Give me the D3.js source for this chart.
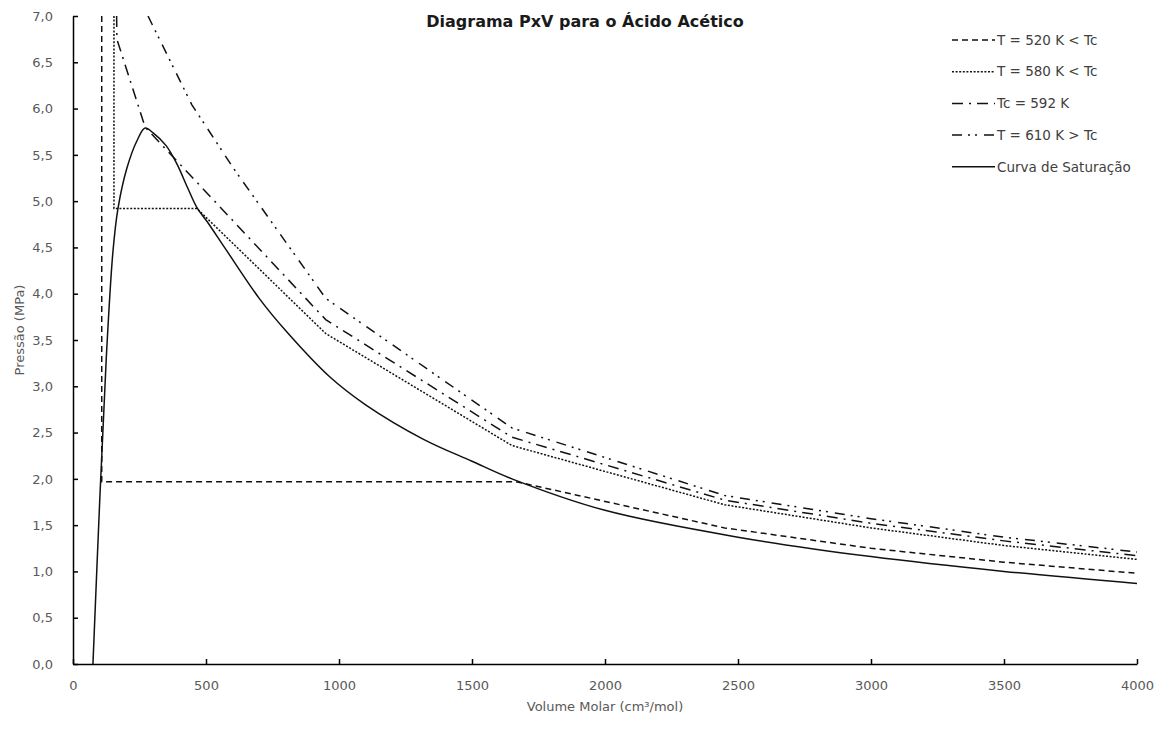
<!DOCTYPE html>
<html>
<head>
<meta charset="utf-8">
<script src="https://cdn.jsdelivr.net/npm/d3@7"></script>
<style>
  body { margin: 0; background: #fff; }
  svg { display: block; font-family: "DejaVu Sans", sans-serif; }
</style>
</head>
<body>
<div id="chart"></div>
<script>
// Saturation curve (cm3/mol, MPa)
const satV = [75, 101, 125, 150, 169, 203, 240, 271, 300, 350, 391, 430, 466, 504, 579, 700, 800, 966, 1100, 1316, 1500, 1650, 2000, 2500, 3000, 3500, 4000];
const satP = [0, 1.8, 3.3, 4.45, 4.92, 5.36, 5.65, 5.79, 5.74, 5.6, 5.4, 5.15, 4.93, 4.78, 4.46, 3.95, 3.6, 3.1, 2.8, 2.43, 2.19, 2.0, 1.66, 1.37, 1.16, 1.0, 0.87];

// Isotherms
const t520V = [108, 108, 1665, 2450, 3000, 3500, 4000];
const t520P = [7.0, 1.97, 1.97, 1.47, 1.25, 1.1, 0.98];
const t580V = [154, 154, 466, 950, 1650, 2450, 3000, 3500, 4000];
const t580P = [7.0, 4.92, 4.92, 3.57, 2.36, 1.72, 1.47, 1.28, 1.13];
const t592V = [164, 165, 271, 950, 1650, 2450, 3000, 3500, 4000];
const t592P = [7.0, 6.75, 5.8, 3.72, 2.45, 1.77, 1.52, 1.33, 1.17];
const t610V = [282, 447, 602, 950, 1650, 2450, 3000, 3500, 4000];
const t610P = [7.0, 6.04, 5.36, 3.95, 2.55, 1.82, 1.57, 1.37, 1.21];

const xTicks = [0, 500, 1000, 1500, 2000, 2500, 3000, 3500, 4000];
const yTicks = [0, 0.5, 1, 1.5, 2, 2.5, 3, 3.5, 4, 4.5, 5, 5.5, 6, 6.5, 7];

const series = [
  { name: "T = 520 K < Tc", v: t520V, p: t520P, dash: "6,4" },
  { name: "T = 580 K < Tc", v: t580V, p: t580P, dash: "2,1.6" },
  { name: "Tc = 592 K", v: t592V, p: t592P, dash: "11,6,2,6" },
  { name: "T = 610 K > Tc", v: t610V, p: t610P, dash: "10,6,2,5,2,7" },
  { name: "Curva de Saturação", v: satV, p: satP, dash: null, smooth: true }
];

const width = 1165, height = 729;
const margin = { top: 16, right: 28, bottom: 65, left: 73 };

const svg = d3.select("#chart")
  .append("svg")
  .attr("width", width)
  .attr("height", height);

svg.append("rect").attr("width", width).attr("height", height).attr("fill", "#fff");

const x = d3.scaleLinear()
  .domain([0, 4000])
  .range([margin.left, width - margin.right]);

const y = d3.scaleLinear()
  .domain([0, 7])
  .range([height - margin.bottom, margin.top]);

svg.append("clipPath").attr("id", "plot")
  .append("rect")
  .attr("x", margin.left).attr("y", margin.top)
  .attr("width", width - margin.right - margin.left)
  .attr("height", height - margin.bottom - margin.top);

// Series
const straight = d3.line().x(d => x(d[0])).y(d => y(d[1]));
const smooth = d3.line().x(d => x(d[0])).y(d => y(d[1])).curve(d3.curveCatmullRom.alpha(0.5));

const g = svg.append("g").attr("clip-path", "url(#plot)");
series.forEach(s => {
  const pts = s.v.map((v, i) => [v, s.p[i]]);
  g.append("path")
    .attr("d", (s.smooth ? smooth : straight)(pts))
    .attr("fill", "none")
    .attr("stroke", "#111")
    .attr("stroke-width", 1.5)
    .attr("stroke-dasharray", s.dash);
});

// Axes
const fmt = d => d3.format(".1f")(d).replace(".", ",");

const yAxis = svg.append("g")
  .attr("transform", `translate(${margin.left},0)`)
  .call(d3.axisLeft(y).tickValues(yTicks).tickFormat(fmt).tickSizeInner(-5).tickSizeOuter(0).tickPadding(20));

const xAxis = svg.append("g")
  .attr("transform", `translate(0,${height - margin.bottom})`)
  .call(d3.axisBottom(x).tickValues(xTicks).tickFormat(d3.format("d")).tickSizeInner(-5).tickSizeOuter(0).tickPadding(17));

[xAxis, yAxis].forEach(a => {
  a.select(".domain").attr("stroke", "#000").attr("stroke-width", 1.5);
  a.selectAll(".tick line").attr("stroke", "#000").attr("stroke-width", 1.5);
  a.selectAll(".tick text")
    .attr("fill", "#595959")
    .attr("font-size", "13px")
    .attr("font-family", "DejaVu Sans, sans-serif");
});

// Title
svg.append("text")
  .attr("x", 585)
  .attr("y", 27)
  .attr("text-anchor", "middle")
  .attr("font-size", "16px")
  .attr("font-weight", "bold")
  .attr("fill", "#1a1a1a")
  .text("Diagrama PxV para o Ácido Acético");

// Axis labels
svg.append("text")
  .attr("x", 605)
  .attr("y", 711)
  .attr("text-anchor", "middle")
  .attr("font-size", "13px")
  .attr("fill", "#595959")
  .text("Volume Molar (cm³/mol)");

svg.append("text")
  .attr("transform", "rotate(-90)")
  .attr("x", -330)
  .attr("y", 24)
  .attr("text-anchor", "middle")
  .attr("font-size", "13px")
  .attr("fill", "#595959")
  .text("Pressão (MPa)");

// Legend
const legend = svg.append("g").attr("transform", "translate(952,40)");
series.forEach((s, i) => {
  const row = legend.append("g").attr("transform", `translate(0,${i * 31.7})`);
  row.append("line")
    .attr("x1", 0).attr("x2", 43)
    .attr("y1", 0).attr("y2", 0)
    .attr("stroke", "#111")
    .attr("stroke-width", 1.5)
    .attr("stroke-dasharray", s.dash);
  row.append("text")
    .attr("x", 45)
    .attr("y", 0)
    .attr("dy", "0.35em")
    .attr("font-size", "13.5px")
    .attr("fill", "#404040")
    .text(s.name);
});
</script>
</body>
</html>
